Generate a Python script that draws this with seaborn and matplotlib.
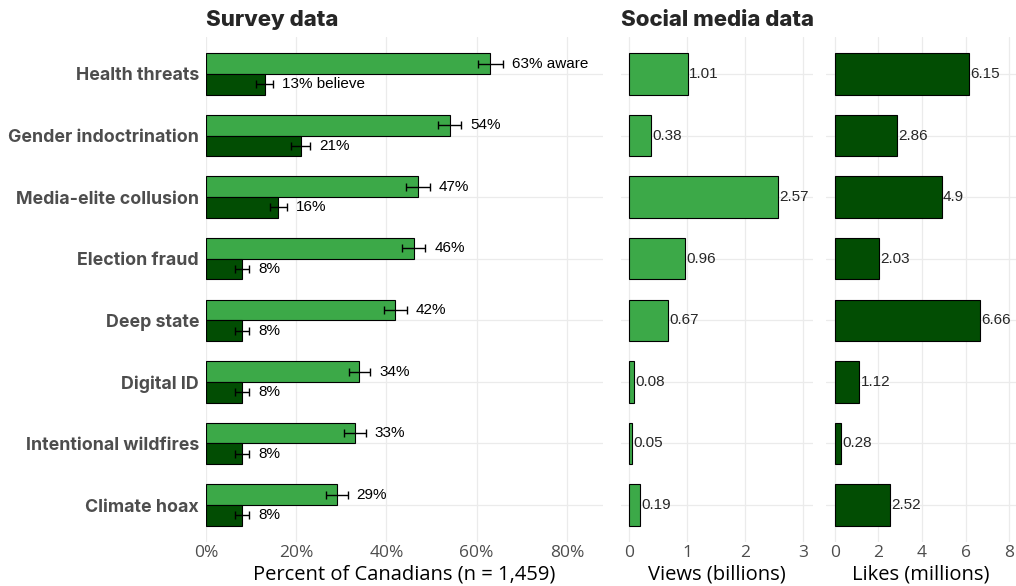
import matplotlib
matplotlib.use("Agg")
import matplotlib.pyplot as plt
import pandas as pd
import seaborn as sns

# Survey results and social media reach per narrative
categories = ["Health threats", "Gender indoctrination", "Media-elite collusion",
              "Election fraud", "Deep state", "Digital ID",
              "Intentional wildfires", "Climate hoax"]
aware_pct = [63, 54, 47, 46, 42, 34, 33, 29]
believe_pct = [13, 21, 16, 8, 8, 8, 8, 8]
aware_err = [2.8, 2.6, 2.6, 2.6, 2.5, 2.4, 2.4, 2.4]
believe_err = [1.9, 2.1, 1.9, 1.5, 1.5, 1.5, 1.5, 1.5]
views_billions = [1.01, 0.38, 2.57, 0.96, 0.67, 0.08, 0.05, 0.19]
likes_millions = [6.15, 2.86, 4.9, 2.03, 6.66, 1.12, 0.28, 2.52]
pct_ticks = [0, 20, 40, 60, 80]
views_ticks = [0, 1, 2, 3]
likes_ticks = [0, 2, 4, 6, 8]

LIGHT = "#3CA948"
DARK = "#024D03"
GRID = "#EBEBEB"
GREY_TXT = "#4D4D4D"
UI_FONT = "Open Sans"
HEAD_FONT = "Inter"
VAL_FONT = "Liberation Sans"

sns.set_theme(style="whitegrid")
plt.rcParams["font.family"] = [UI_FONT, "DejaVu Sans"]
plt.rcParams["axes.edgecolor"] = "white"
plt.rcParams["grid.color"] = GRID
plt.rcParams["grid.linewidth"] = 0.9

W, H = 1016, 586
fig = plt.figure(figsize=(W / 100, H / 100), dpi=100)


def px_axes(x0, x1, y0, y1):
    return fig.add_axes([x0 / W, 1 - y1 / H, (x1 - x0) / W, (y1 - y0) / H])


ax_s = px_axes(206, 603, 37, 542)
ax_v = px_axes(621, 813, 37, 542)
ax_l = px_axes(826, 1016, 37, 542)

# --- survey panel ---
survey = pd.DataFrame({
    "category": categories * 2,
    "group": ["aware"] * len(categories) + ["believe"] * len(categories),
    "pct": aware_pct + believe_pct,
})
sns.barplot(data=survey, y="category", x="pct", hue="group",
            order=categories, hue_order=["aware", "believe"],
            palette=[LIGHT, DARK], saturation=1, width=0.67,
            edgecolor="black", linewidth=0.8, errorbar=None,
            legend=False, ax=ax_s)

for cont, vals, errs, word in zip(ax_s.containers,
                                   [aware_pct, believe_pct],
                                   [aware_err, believe_err],
                                   ["aware", "believe"]):
    ys = [p.get_y() + p.get_height() / 2 for p in cont.patches]
    ax_s.errorbar(vals, ys, xerr=errs, fmt="none", ecolor="black",
                  elinewidth=1.0, capsize=3, capthick=1.0, zorder=4)
    for i, (v, e, y) in enumerate(zip(vals, errs, ys)):
        label = f"{v}%" + (f" {word}" if i == 0 else "")
        ax_s.text(v + e + 2.0, y, label, va="center", ha="left",
                  fontsize=11, family=VAL_FONT, color="black")

ax_s.set_xlim(0, 88)
ax_s.set_xticks(pct_ticks)
ax_s.set_xticklabels([f"{t}%" for t in pct_ticks])
ax_s.set_xlabel("Percent of Canadians (n = 1,459)", fontsize=14.5,
                color="black", labelpad=3)
ax_s.set_ylabel("")
ax_s.tick_params(axis="y", length=0, pad=5)
for lab in ax_s.get_yticklabels():
    lab.set_fontfamily([HEAD_FONT, "DejaVu Sans"])
    lab.set_fontweight("bold")
    lab.set_fontsize(12.8)
    lab.set_color(GREY_TXT)

# --- social media panels ---
media = pd.DataFrame({"category": categories,
                      "views": views_billions,
                      "likes": likes_millions})
sns.barplot(data=media, y="category", x="views", order=categories,
            color=LIGHT, saturation=1, width=0.67, edgecolor="black",
            linewidth=0.8, errorbar=None, ax=ax_v)
for p, v in zip(ax_v.containers[0].patches, views_billions):
    ax_v.text(v + 0.02, p.get_y() + p.get_height() / 2, f"{v:g}",
              va="center", ha="left", fontsize=11, family=VAL_FONT)
ax_v.set_xlim(-0.14, 3.17)
ax_v.set_xticks(views_ticks)
ax_v.set_xlabel("Views (billions)", fontsize=14.5, color="black", labelpad=3)

sns.barplot(data=media, y="category", x="likes", order=categories,
            color=DARK, saturation=1, width=0.67, edgecolor="black",
            linewidth=0.8, errorbar=None, ax=ax_l)
for p, v in zip(ax_l.containers[0].patches, likes_millions):
    ax_l.text(v + 0.05, p.get_y() + p.get_height() / 2, f"{v:g}",
              va="center", ha="left", fontsize=11, family=VAL_FONT)
ax_l.set_xlim(-0.41, 8.32)
ax_l.set_xticks(likes_ticks)
ax_l.set_xlabel("Likes (millions)", fontsize=14.5, color="black", labelpad=3)

for ax in (ax_v, ax_l):
    ax.set_ylabel("")
    ax.tick_params(axis="y", labelleft=False, length=0)

for ax in (ax_s, ax_v, ax_l):
    ax.set_ylim(len(categories) - 0.4, -0.6)
    ax.yaxis.grid(True)
    ax.xaxis.grid(True)
    ax.set_axisbelow(True)
    ax.tick_params(axis="x", labelsize=12.5, labelcolor=GREY_TXT, length=0, pad=2)
    for s in ax.spines.values():
        s.set_visible(False)

fig.text(206 / W, 1 - 26 / H, "Survey data", fontsize=16,
         family=[HEAD_FONT, "DejaVu Sans"], fontweight="heavy",
         ha="left", va="baseline")
fig.text(621 / W, 1 - 26 / H, "Social media data", fontsize=16,
         family=[HEAD_FONT, "DejaVu Sans"], fontweight="heavy",
         ha="left", va="baseline")

fig.savefig("out.png", dpi=100, facecolor="white")
